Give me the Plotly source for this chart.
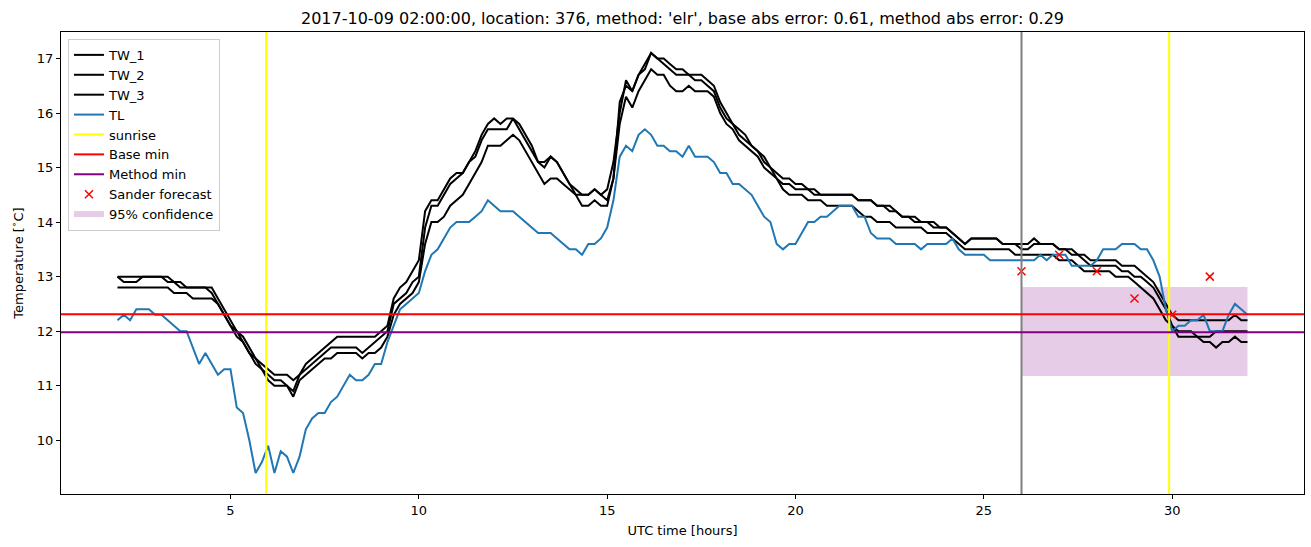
import numpy as np
import plotly.graph_objects as go

# ---------------- data (10-minute samples, 02:00 .. 32:00 UTC hours) ----------------
t_start = 2.0
t_step_per_hour = 6

TL = [
    12.2, 12.3, 12.2, 12.4, 12.4, 12.4,
    12.3, 12.3, 12.2, 12.1, 12.0, 12.0,
    11.7, 11.4, 11.6, 11.4, 11.2, 11.3,
    11.3, 10.6, 10.5, 10.0, 9.4, 9.6,
    9.9, 9.4, 9.8, 9.7, 9.4, 9.7,
    10.2, 10.4, 10.5, 10.5, 10.7, 10.8,
    11.0, 11.2, 11.1, 11.1, 11.2, 11.4,
    11.4, 11.8, 12.1, 12.4, 12.5, 12.6,
    12.7, 13.1, 13.4, 13.5, 13.7, 13.9,
    14.0, 14.0, 14.0, 14.1, 14.2, 14.4,
    14.3, 14.2, 14.2, 14.2, 14.1, 14.0,
    13.9, 13.8, 13.8, 13.8, 13.7, 13.6,
    13.5, 13.5, 13.4, 13.6, 13.6, 13.7,
    13.9, 14.4, 15.2, 15.4, 15.3, 15.6,
    15.7, 15.6, 15.4, 15.4, 15.3, 15.3,
    15.2, 15.4, 15.2, 15.2, 15.2, 15.1,
    14.9, 14.9, 14.7, 14.7, 14.6, 14.5,
    14.3, 14.1, 14.0, 13.6, 13.5, 13.6,
    13.6, 13.8, 14.0, 14.0, 14.1, 14.1,
    14.2, 14.3, 14.3, 14.3, 14.1, 14.1,
    13.8, 13.7, 13.7, 13.7, 13.6, 13.6,
    13.6, 13.6, 13.5, 13.6, 13.6, 13.6,
    13.6, 13.7, 13.5, 13.4, 13.4, 13.4,
    13.4, 13.3, 13.3, 13.3, 13.3, 13.3,
    13.3, 13.3, 13.3, 13.4, 13.3, 13.4,
    13.4, 13.4, 13.2, 13.2, 13.2, 13.2,
    13.3, 13.5, 13.5, 13.5, 13.6, 13.6,
    13.6, 13.5, 13.5, 13.3, 13.0, 12.4,
    12.0, 12.1, 12.1, 12.2, 12.2, 12.3,
    12.0, 12.0, 12.0, 12.3, 12.5, 12.4,
    12.3,
]

TW_1 = [
    13.0, 13.0, 13.0, 13.0, 13.0, 13.0,
    13.0, 13.0, 13.0, 12.9, 12.9, 12.8,
    12.8, 12.8, 12.8, 12.8, 12.6, 12.4,
    12.2, 12.0, 11.9, 11.7, 11.5, 11.4,
    11.3, 11.2, 11.2, 11.2, 11.1, 11.2,
    11.4, 11.5, 11.6, 11.7, 11.8, 11.9,
    11.9, 11.9, 11.9, 11.9, 11.9, 11.9,
    12.0, 12.1, 12.6, 12.8, 12.9, 13.1,
    13.3, 14.2, 14.4, 14.4, 14.6, 14.8,
    14.9, 14.9, 15.1, 15.3, 15.6, 15.8,
    15.9, 15.8, 15.9, 15.9, 15.8, 15.6,
    15.4, 15.1, 15.1, 15.2, 15.1, 14.9,
    14.7, 14.6, 14.5, 14.5, 14.6, 14.5,
    14.6, 15.1, 16.0, 16.6, 16.4, 16.7,
    16.9, 17.1, 17.0, 17.0, 16.9, 16.8,
    16.8, 16.7, 16.7, 16.7, 16.6, 16.5,
    16.2, 16.0, 15.8, 15.7, 15.6, 15.4,
    15.3, 15.2, 15.0, 14.9, 14.8, 14.8,
    14.7, 14.7, 14.6, 14.6, 14.5, 14.5,
    14.5, 14.5, 14.5, 14.5, 14.4, 14.4,
    14.4, 14.3, 14.3, 14.2, 14.2, 14.1,
    14.1, 14.1, 14.0, 14.0, 14.0, 13.9,
    13.9, 13.8, 13.7, 13.6, 13.7, 13.7,
    13.7, 13.7, 13.7, 13.6, 13.6, 13.6,
    13.6, 13.6, 13.7, 13.6, 13.6, 13.6,
    13.5, 13.5, 13.5, 13.4, 13.4, 13.3,
    13.3, 13.3, 13.3, 13.3, 13.2, 13.2,
    13.2, 13.1, 13.0, 12.9, 12.7, 12.5,
    12.3, 12.2, 12.2, 12.2, 12.2, 12.2,
    12.2, 12.2, 12.2, 12.2, 12.3, 12.2,
    12.2,
]

TW_2 = [
    13.0, 12.9, 12.9, 12.9, 13.0, 13.0,
    13.0, 13.0, 12.9, 12.9, 12.8, 12.8,
    12.8, 12.8, 12.8, 12.7, 12.5, 12.3,
    12.1, 12.0, 11.8, 11.6, 11.5, 11.3,
    11.2, 11.1, 11.1, 11.0, 10.9, 11.2,
    11.3, 11.4, 11.5, 11.6, 11.7, 11.7,
    11.7, 11.7, 11.7, 11.6, 11.7, 11.8,
    11.9, 12.0, 12.5, 12.6, 12.7, 12.9,
    13.0, 13.9, 14.3, 14.3, 14.5, 14.7,
    14.8, 14.9, 15.1, 15.2, 15.5, 15.7,
    15.7, 15.7, 15.7, 15.9, 15.7, 15.5,
    15.3, 15.1, 15.0, 15.2, 15.1, 14.9,
    14.7, 14.5, 14.5, 14.5, 14.6, 14.5,
    14.4, 14.8, 16.2, 16.5, 16.4, 16.7,
    16.8, 17.1, 17.0, 16.9, 16.8, 16.7,
    16.7, 16.7, 16.6, 16.6, 16.5, 16.4,
    16.1, 15.9, 15.8, 15.6, 15.5, 15.4,
    15.3, 15.1, 15.0, 14.8, 14.7, 14.7,
    14.6, 14.6, 14.6, 14.5, 14.5, 14.5,
    14.5, 14.5, 14.5, 14.5, 14.4, 14.4,
    14.4, 14.3, 14.3, 14.3, 14.2, 14.1,
    14.1, 14.0, 14.0, 14.0, 13.9, 13.9,
    13.9, 13.8, 13.7, 13.6, 13.7, 13.7,
    13.7, 13.7, 13.7, 13.6, 13.6, 13.6,
    13.5, 13.5, 13.6, 13.6, 13.6, 13.6,
    13.5, 13.5, 13.4, 13.4, 13.3, 13.2,
    13.2, 13.2, 13.2, 13.2, 13.1, 13.1,
    13.0, 13.0, 12.9, 12.8, 12.6, 12.4,
    12.1, 12.0, 12.0, 12.0, 11.9, 11.9,
    11.9, 12.0, 12.0, 12.0, 12.0, 12.0,
    12.0,
]

TW_3 = [
    12.8, 12.8, 12.8, 12.8, 12.8, 12.8,
    12.8, 12.8, 12.8, 12.7, 12.7, 12.7,
    12.6, 12.6, 12.6, 12.6, 12.5, 12.3,
    12.1, 11.9, 11.8, 11.6, 11.4, 11.3,
    11.1, 11.0, 11.0, 11.0, 10.8, 11.1,
    11.2, 11.3, 11.4, 11.5, 11.5, 11.6,
    11.6, 11.6, 11.6, 11.5, 11.6, 11.6,
    11.7, 11.9, 12.3, 12.5, 12.6, 12.7,
    12.9, 13.6, 14.0, 14.0, 14.1, 14.3,
    14.4, 14.5, 14.7, 14.9, 15.1, 15.4,
    15.4, 15.4, 15.5, 15.6, 15.5, 15.3,
    15.1, 14.9, 14.7, 14.8, 14.8, 14.7,
    14.6, 14.5, 14.3, 14.3, 14.4, 14.3,
    14.3, 14.8, 15.8, 16.3, 16.1, 16.4,
    16.6, 16.8, 16.7, 16.7, 16.5, 16.4,
    16.4, 16.5, 16.4, 16.4, 16.4, 16.3,
    16.0, 15.8, 15.7, 15.5, 15.4, 15.3,
    15.2, 15.0, 14.9, 14.8, 14.6, 14.5,
    14.5, 14.5, 14.4, 14.4, 14.4, 14.3,
    14.3, 14.3, 14.3, 14.3, 14.2, 14.1,
    14.1, 14.0, 14.0, 14.0, 13.9, 13.9,
    13.9, 13.9, 13.9, 13.8, 13.8, 13.8,
    13.8, 13.7, 13.6, 13.5, 13.5, 13.5,
    13.5, 13.5, 13.5, 13.5, 13.5, 13.4,
    13.4, 13.4, 13.4, 13.4, 13.4, 13.4,
    13.3, 13.3, 13.3, 13.2, 13.1, 13.1,
    13.1, 13.1, 13.1, 13.0, 13.0, 13.0,
    12.9, 12.8, 12.7, 12.6, 12.4, 12.2,
    12.1, 11.9, 11.9, 11.9, 11.9, 11.8,
    11.8, 11.7, 11.8, 11.8, 11.9, 11.8,
    11.8,
]

sunrise_hours = [5.95, 29.92]
forecast_start = 26.0
base_min = 12.31
method_min = 11.98

sander_hours = [26, 27, 28, 29, 30, 31]
sander_values = [13.1, 13.4, 13.1, 12.6, 12.3, 13.0]

conf_start, conf_end = 26.0, 32.0
conf_lo, conf_hi = 11.18, 12.81

title_text = ("2017-10-09 02:00:00, location: 376, method: 'elr', "
              "base abs error: 0.61, method abs error: 0.29")

# time axis of the samples
t = t_start + np.arange(len(TL)) / t_step_per_hour

# ---------------- figure ----------------
FONT = "DejaVu Sans"
fig = go.Figure()

# 95% confidence band (drawn first, beneath the lines)
fig.add_trace(go.Scatter(
    x=[conf_start, conf_end, conf_end, conf_start, conf_start],
    y=[conf_lo, conf_lo, conf_hi, conf_hi, conf_lo],
    mode="none", fill="toself", fillcolor="rgba(128,0,128,0.2)",
    name="95% confidence", legendrank=9, hoverinfo="skip",
))

for i, (nm, vals) in enumerate([("TW_1", TW_1), ("TW_2", TW_2), ("TW_3", TW_3)]):
    fig.add_trace(go.Scatter(x=t, y=vals, mode="lines", name=nm,
                             line=dict(color="black", width=2), legendrank=1 + i))

fig.add_trace(go.Scatter(x=t, y=TL, mode="lines", name="TL",
                         line=dict(color="#1f77b4", width=2), legendrank=4))

# legend-only entries for reference lines drawn as shapes
fig.add_trace(go.Scatter(x=[None], y=[None], mode="lines", name="sunrise",
                         line=dict(color="yellow", width=2), legendrank=5))
fig.add_trace(go.Scatter(x=[None], y=[None], mode="lines", name="Base min",
                         line=dict(color="red", width=2), legendrank=6))
fig.add_trace(go.Scatter(x=[None], y=[None], mode="lines", name="Method min",
                         line=dict(color="purple", width=2), legendrank=7))

fig.add_trace(go.Scatter(x=sander_hours, y=sander_values, mode="markers",
                         name="Sander forecast", legendrank=8,
                         marker=dict(symbol="x-thin", size=8,
                                     line=dict(color="red", width=1.5), color="red")))

shapes = []
for s in sunrise_hours:
    shapes.append(dict(type="line", xref="x", yref="y domain", x0=s, x1=s, y0=0, y1=1,
                       line=dict(color="yellow", width=2)))
shapes.append(dict(type="line", xref="x", yref="y domain", x0=forecast_start, x1=forecast_start,
                   y0=0, y1=1, line=dict(color="gray", width=2)))
shapes.append(dict(type="line", xref="x domain", yref="y", x0=0, x1=1, y0=base_min, y1=base_min,
                   line=dict(color="red", width=2)))
shapes.append(dict(type="line", xref="x domain", yref="y", x0=0, x1=1, y0=method_min, y1=method_min,
                   line=dict(color="purple", width=2)))

axis_common = dict(showline=True, linecolor="black", linewidth=1, mirror=True,
                   ticks="outside", ticklen=4, tickwidth=1, tickcolor="black",
                   showgrid=False, zeroline=False,
                   tickfont=dict(family=FONT, size=13, color="black"))

fig.update_layout(
    width=1311, height=547, autosize=False,
    margin=dict(l=61, r=7, t=32, b=53),
    paper_bgcolor="white", plot_bgcolor="white",
    font=dict(family=FONT, size=13, color="black"),
    title=dict(text=title_text, x=0.5, xref="paper", xanchor="center",
               y=1 - 18 / 547, yref="container", yanchor="middle",
               font=dict(family=FONT, size=16, color="black")),
    xaxis=dict(range=[0.5, 33.5], tick0=0, dtick=5,
               title=dict(text="UTC time [hours]", standoff=9,
                          font=dict(family=FONT, size=13)),
               **axis_common),
    yaxis=dict(range=[9.015, 17.485], tick0=0, dtick=1,
               title=dict(text="Temperature [<sup>∘</sup>C]", standoff=10,
                          font=dict(family=FONT, size=13)),
               **axis_common),
    shapes=shapes,
    showlegend=True,
    legend=dict(x=0.0056, y=0.985, xanchor="left", yanchor="top",
                bgcolor="rgba(255,255,255,0.8)", bordercolor="#cccccc", borderwidth=1,
                font=dict(family=FONT, size=13, color="black"),
                traceorder="normal", itemwidth=30, tracegroupgap=0),
)

fig.write_html("out.html", post_script="document.body.style.margin='0';")
